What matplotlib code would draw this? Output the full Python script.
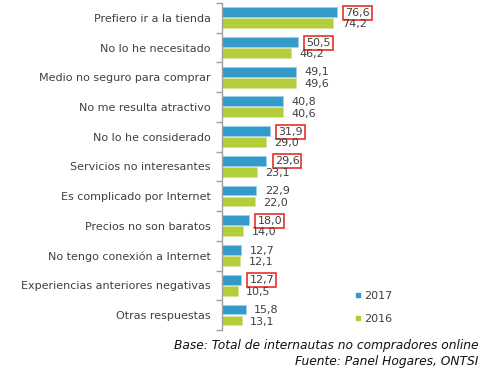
import matplotlib
matplotlib.use("Agg")
import matplotlib.pyplot as plt
from matplotlib.lines import Line2D
import numpy as np

categories = [
    "Prefiero ir a la tienda",
    "No lo he necesitado",
    "Medio no seguro para comprar",
    "No me resulta atractivo",
    "No lo he considerado",
    "Servicios no interesantes",
    "Es complicado por Internet",
    "Precios no son baratos",
    "No tengo conexión a Internet",
    "Experiencias anteriores negativas",
    "Otras respuestas",
]
values_2017 = [76.6, 50.5, 49.1, 40.8, 31.9, 29.6, 22.9, 18.0, 12.7, 12.7, 15.8]
values_2016 = [74.2, 46.2, 49.6, 40.6, 29.0, 23.1, 22.0, 14.0, 12.1, 10.5, 13.1]
highlight_2017 = [True, True, False, False, True, True, False, True, False, True, False]

blue = "#3499CB"
green = "#B4CD3A"
text_color = "#404040"


def fmt(v):
    return f"{v:.1f}".replace(".", ",")


fig = plt.figure(figsize=(4.86, 3.77), dpi=100)
ax = fig.add_axes([222 / 486, 1 - 330 / 377, 264 / 486, 327 / 377])

y = np.arange(len(categories))
h = 0.33
ax.barh(y - 0.19, values_2017, height=h, color=blue, edgecolor="#9fd0ea", linewidth=0.5)
ax.barh(y + 0.18, values_2016, height=h, color=green, edgecolor="#d6e69a", linewidth=0.5)

for i in range(len(categories)):
    v17, v16 = values_2017[i], values_2016[i]
    box = None
    if highlight_2017[i]:
        box = dict(boxstyle="square,pad=0.18", facecolor="none", edgecolor="#E8302A", linewidth=1.2)
    ax.annotate(fmt(v17), (v17, i - 0.17), xytext=(6, 0), textcoords="offset points",
                ha="left", va="center", fontsize=8, color=text_color, bbox=box)
    ax.annotate(fmt(v16), (v16, i + 0.22), xytext=(6, 0), textcoords="offset points",
                ha="left", va="center", fontsize=8, color=text_color)

ax.set_xlim(0, 176)
ax.set_ylim(len(categories) - 0.5, -0.5)
ax.set_yticks(y)
ax.set_yticklabels(categories, fontsize=8, color=text_color)
ax.set_yticks(np.arange(len(categories) + 1) - 0.5, minor=True)
ax.tick_params(axis="y", which="major", length=0, pad=8)
ax.tick_params(axis="y", which="minor", length=4, color="#A0A0A0", width=1)
ax.set_xticks([])
for s in ["top", "right", "bottom"]:
    ax.spines[s].set_visible(False)
ax.spines["left"].set_color("#A0A0A0")
ax.spines["left"].set_linewidth(1)

handles = [
    Line2D([], [], marker="s", linestyle="none", color=blue, markersize=3.5),
    Line2D([], [], marker="s", linestyle="none", color=green, markersize=3.5),
]
fig.legend(handles, ["2017", "2016"], loc="upper left", bbox_to_anchor=(345 / 486, 1 - 281 / 377),
           frameon=False, fontsize=8, handlelength=0.6, handletextpad=0.2, labelspacing=1.2,
           labelcolor=text_color)

fig.text(478 / 486, 1 - 345 / 377, "Base: Total de internautas no compradores online",
         ha="right", va="center", fontsize=8.8, style="italic", color="#111111")
fig.text(478 / 486, 1 - 361 / 377, "Fuente: Panel Hogares, ONTSI",
         ha="right", va="center", fontsize=8.8, style="italic", color="#111111")

fig.savefig("out.png", dpi=100)
